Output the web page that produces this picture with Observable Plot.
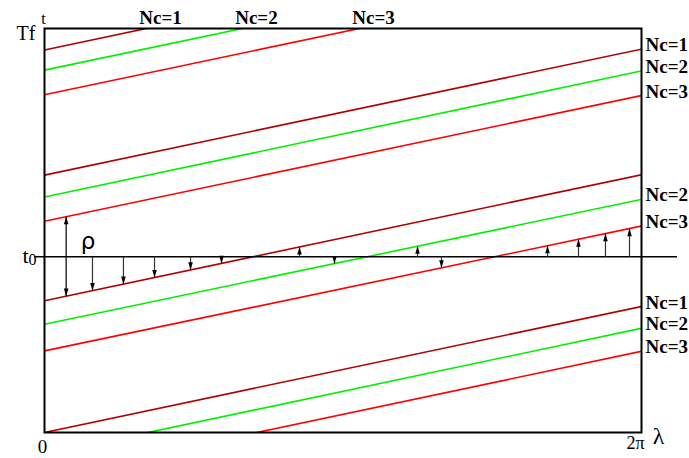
<!DOCTYPE html>
<html><head><meta charset="utf-8">
<script src="https://cdn.jsdelivr.net/npm/d3@7"></script>
<script src="https://cdn.jsdelivr.net/npm/@observablehq/plot@0.6"></script>
<style>body{margin:0;background:#fff;} svg{overflow:visible}</style>
</head><body><div id="chart"></div>
<script>
// ---- data (t in units where Tf = 10) ----
const TF = 10;
const T0 = 4.35;
const LMAX = 2 * Math.PI;
const ncColors = ["#b00000", "#00f000", "#ff0000"];
// each characteristic line: Nc family, t at λ=0, t at λ=2π
const lineNc    = [1, 1, 1, 1, 2, 2, 2, 2, 3, 3, 3, 3];
const lineStart = [0, 3.26, 6.37, 9.47, -0.54, 2.68, 5.83, 8.97, -1.11, 2.02, 5.23, 8.36];
const lineEnd   = [3.12, 6.38, 9.49, 12.58, 2.58, 5.77, 8.95, 12.08, 2.01, 5.11, 8.34, 11.47];
// labels at the right edge (line index) and at the top edge (line index)
const rightLabelLines = [2, 6, 10, 5, 9, 0, 4, 8];
const topLabelLines = [3, 7, 11];
// arrows from t0 to a line: λ position and target line index
const arrowLambda = [0.505, 0.831, 1.158, 1.537, 1.863, 2.684, 3.052, 3.926, 4.178, 5.294, 5.620, 5.904, 6.157];
const arrowLine   = [1, 1, 1, 1, 1, 1, 5, 5, 9, 9, 9, 9, 9];
// rho double arrow: λ position, from line (top) to line (bottom)
const rhoLambda = 0.228;
const rhoLines = [10, 1];

// ---- derived ----
const tAt = (i, l) => lineStart[i] + (lineEnd[i] - lineStart[i]) * l / LMAX;
const lineRows = lineNc.flatMap((nc, i) => [
  {id: i, nc, l: 0, t: lineStart[i]},
  {id: i, nc, l: LMAX, t: lineEnd[i]}
]);
const rightLabels = rightLabelLines.map(i => ({l: LMAX, t: lineEnd[i], text: `Nc=${lineNc[i]}`}));
const topLabels = topLabelLines.map(i => ({
  l: (TF - lineStart[i]) / (lineEnd[i] - lineStart[i]) * LMAX, t: TF, text: `Nc=${lineNc[i]}`
}));
const arrows = arrowLambda.map((l, k) => ({l, t1: T0, t2: tAt(arrowLine[k], l)}));
const rhoTop = tAt(rhoLines[0], rhoLambda), rhoBot = tAt(rhoLines[1], rhoLambda);
const heads = [
  ...arrows.map(a => ({l: a.l, t: a.t2, up: a.t2 > a.t1})),
  {l: rhoLambda, t: rhoTop, up: true},
  {l: rhoLambda, t: rhoBot, up: false}
];

const arrowHead = {
  draw(context, size) {
    const s = Math.sqrt(size / Math.PI);
    context.moveTo(0, 0);
    context.lineTo(-s * 0.6, s * 2);
    context.lineTo(s * 0.6, s * 2);
    context.closePath();
  }
};

const serif = "Liberation Serif, Times New Roman, serif";

const chart = Plot.plot({
  width: 689, height: 458,
  marginLeft: 44, marginRight: 48, marginTop: 28, marginBottom: 26,
  x: {domain: [0, LMAX], axis: null},
  y: {domain: [0, TF], axis: null},
  color: {type: "ordinal", domain: [1, 2, 3], range: ncColors},
  style: {fontFamily: serif, background: "white", overflow: "visible"},
  marks: [
    Plot.line(lineRows, {x: "l", y: "t", z: "id", stroke: "nc", strokeWidth: 1.6, clip: true}),
    Plot.ruleY([T0], {stroke: "black", strokeWidth: 1.5, insetLeft: -10, insetRight: -36}),
    Plot.link(arrows, {x1: "l", x2: "l", y1: "t1", y2: "t2", stroke: "#333", strokeWidth: 1.2}),
    Plot.link([{l: rhoLambda, a: rhoTop, b: rhoBot}], {x1: "l", x2: "l", y1: "a", y2: "b", stroke: "#111", strokeWidth: 1.3}),
    Plot.dot(heads, {x: "l", y: "t", symbol: arrowHead, r: 3.8, fill: "black", stroke: "none", rotate: d => d.up ? 0 : 180}),
    Plot.frame({stroke: "black", strokeWidth: 2}),
    Plot.text(rightLabels, {x: "l", y: "t", text: "text", textAnchor: "start", dx: 4, dy: -4, fontWeight: "bold", fontSize: 19, fill: "black"}),
    Plot.text(topLabels, {x: "l", y: "t", text: "text", textAnchor: "start", dx: -7, dy: -11, fontWeight: "bold", fontSize: 19, fill: "black"}),
    Plot.text(["Tf"], {x: 0, y: TF, text: d => d, textAnchor: "end", dx: -9, dy: 5, fontSize: 20}),
    Plot.text(["t"], {x: 0, y: TF, text: d => d, textAnchor: "middle", dx: -1, dy: -10, fontSize: 16}),
    Plot.text(["t"], {x: 0, y: T0, text: d => d, textAnchor: "end", dx: -16, dy: -1, fontSize: 22}),
    Plot.text(["0"], {x: 0, y: T0, text: d => d, textAnchor: "start", dx: -16, dy: 3, fontSize: 16}),
    Plot.text(["0"], {x: 0, y: 0, text: d => d, textAnchor: "middle", dx: -2, dy: 14, fontSize: 19}),
    Plot.text(["2π"], {x: LMAX, y: 0, text: d => d, textAnchor: "middle", dx: -6, dy: 11, fontSize: 18}),
    Plot.text(["λ"], {x: LMAX, y: 0, text: d => d, textAnchor: "middle", dx: 17, dy: 4, fontSize: 24}),
    Plot.text(["ρ"], {x: rhoLambda, y: T0, text: d => d, textAnchor: "middle", dx: 22, dy: -15, fontSize: 23, fontFamily: "DejaVu Sans, sans-serif"})
  ]
});
document.getElementById("chart").appendChild(chart);
</script>
</body></html>
